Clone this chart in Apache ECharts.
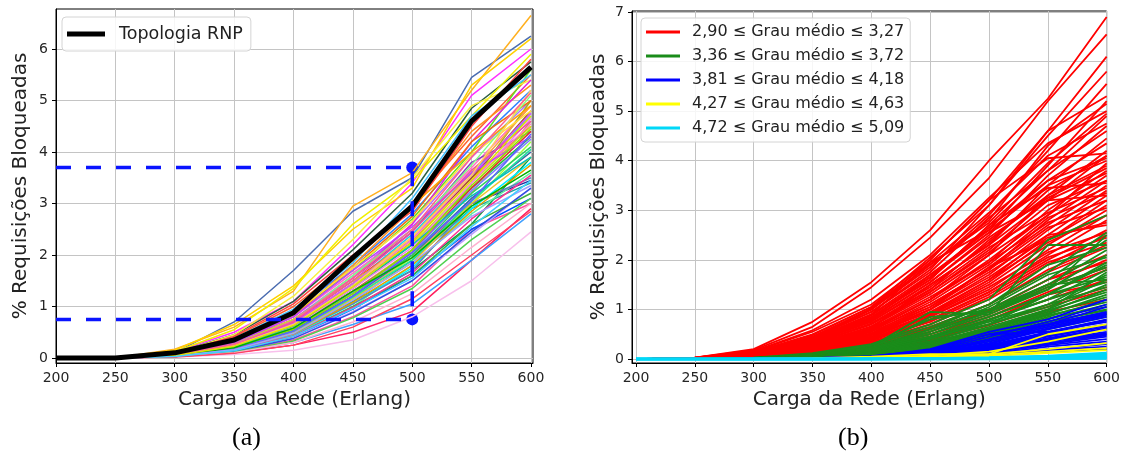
<!DOCTYPE html>
<html>
<head>
<meta charset="utf-8">
<script src="https://cdn.jsdelivr.net/npm/echarts@6/dist/echarts.min.js"></script>
<style>
  html, body { margin: 0; padding: 0; background: #fff; }
  #chart { width: 1123px; height: 457px; }
</style>
</head>
<body>
<div id="chart"></div>
<script>
// eixo x comum (carga em Erlang)
const cargas = [200, 250, 300, 350, 400, 450, 500, 550, 600]
const ticksX = [200, 250, 300, 350, 400, 450, 500, 550, 600]
const ticksYa = [0, 1, 2, 3, 4, 5, 6]
const ticksYb = [0, 1, 2, 3, 4, 5, 6, 7]

// (a) topologia RNP e topologias geradas
const topologiaRNP = [0, 0, 0.1, 0.35, 0.88, 1.95, 2.95, 4.6, 5.65]
const guiaCarga = 500
const guiaAlto = 3.7
const guiaBaixo = 0.75

const coresA = [
  '#4a6cb0', '#ffb020', '#ff30ff', '#ffd000', '#2e6040', '#f0f000', '#ff6030', '#3080ff', '#60e020',
  '#b070ff', '#ff70c0', '#20d0e0', '#ff2020', '#20c040', '#d0a060', '#2030a0', '#20a0a0', '#ff50a0',
  '#f8c0ec', '#ff2060', '#40a0ff', '#f8f040', '#ff9020', '#8040c0', '#00a050', '#a0b020', '#ff8080',
  '#0050ff', '#60f0a0', '#e020e0', '#a06030', '#c0a0ff', '#a0ff40', '#00f0ff', '#ffa040', '#e03030',
  '#d0e020', '#40b040', '#6080c0', '#f080f0', '#3070b0', '#f07010', '#30d060', '#f0c030', '#d050ff',
  '#ff4040', '#40c0ff', '#ffe040', '#80ff80', '#ff80c0', '#8080ff', '#20e0a0', '#e0a000', '#ff3090',
  '#3050e0', '#50d050', '#ffb0d0', '#ff4060', '#c040ff', '#ffa000', '#00c0c0', '#90e000', '#f050a0',
  '#ffd060', '#6060ff', '#00b000', '#ff6090', '#a0a0ff', '#e0e000', '#40d0ff'
]
const linhasA = [
  [0, 0, 0.1, 0.7, 1.7, 2.85, 3.5, 5.45, 6.25],
  [0, 0, 0.17, 0.6, 1.3, 2.95, 3.6, 5.2, 6.65],
  [0, 0, 0.12, 0.5, 1.1, 2.2, 3.4, 5.1, 6.0],
  [0, 0, 0.15, 0.65, 1.4, 2.5, 3.3, 5.3, 6.2],
  [0, 0, 0.1, 0.45, 1.1, 2.1, 3.2, 4.85, 5.75],
  [0, 0, 0.12, 0.55, 1.35, 2.6, 3.45, 4.7, 5.9],
  [0, 0, 0.1, 0.4, 1.0, 1.9, 3.0, 4.3, 5.5],
  [0, 0, 0.08, 0.35, 0.9, 1.8, 2.8, 4.1, 5.2],
  [0, 0, 0.07, 0.3, 0.85, 1.7, 2.7, 4.0, 5.6],
  [0, 0, 0.06, 0.28, 0.75, 1.6, 2.6, 3.9, 5.0],
  [0, 0, 0.07, 0.3, 0.8, 1.65, 2.5, 3.7, 4.9],
  [0, 0, 0.05, 0.22, 0.65, 1.45, 2.4, 3.6, 4.7],
  [0, 0, 0.06, 0.25, 0.7, 1.5, 2.3, 3.5, 4.5],
  [0, 0, 0.05, 0.2, 0.6, 1.35, 2.2, 3.3, 4.3],
  [0, 0, 0.05, 0.2, 0.55, 1.3, 2.1, 3.2, 4.6],
  [0, 0, 0.05, 0.18, 0.5, 1.2, 2.0, 3.0, 3.45],
  [0, 0, 0.04, 0.15, 0.45, 1.1, 1.9, 2.9, 3.4],
  [0, 0, 0.03, 0.12, 0.35, 0.8, 1.4, 2.5, 3.0],
  [0, 0, 0.02, 0.07, 0.15, 0.35, 0.8, 1.5, 2.45],
  [0, 0, 0.03, 0.1, 0.25, 0.5, 0.9, 1.9, 2.9],
  [0, 0, 0.03, 0.1, 0.3, 0.65, 1.05, 1.9, 2.8],
  [0, 0, 0.08, 0.45, 1.2, 2.3, 3.5, 4.9, 5.4],
  [0, 0, 0.06, 0.3, 0.8, 1.8, 2.9, 4.4, 5.3],
  [0, 0, 0.05, 0.25, 0.7, 1.55, 2.45, 3.8, 4.4],
  [0, 0, 0.04, 0.18, 0.5, 1.1, 1.7, 2.6, 3.9],
  [0, 0, 0.05, 0.2, 0.55, 1.25, 2.1, 3.4, 5.0],
  [0, 0, 0.04, 0.2, 0.55, 1.2, 1.95, 3.1, 4.0],
  [0, 0, 0.03, 0.12, 0.4, 0.95, 1.6, 2.5, 3.1],
  [0, 0, 0.04, 0.15, 0.45, 1.0, 1.8, 2.8, 3.6],
  [0, 0, 0.06, 0.3, 0.75, 1.55, 2.6, 4.2, 5.4],
  [0, 0, 0.05, 0.22, 0.6, 1.4, 2.25, 3.5, 4.8],
  [0, 0, 0.03, 0.13, 0.4, 0.9, 1.5, 2.4, 3.3],
  [0, 0, 0.04, 0.17, 0.5, 1.15, 1.95, 3.0, 4.2],
  [0, 0, 0.04, 0.15, 0.45, 1.05, 1.75, 2.9, 3.8],
  [0, 0, 0.05, 0.25, 0.65, 1.45, 2.35, 3.6, 4.9],
  [0, 0, 0.05, 0.2, 0.6, 1.3, 2.05, 3.3, 4.4],
  [0, 0, 0.06, 0.28, 0.75, 1.5, 2.2, 3.4, 4.5],
  [0, 0, 0.03, 0.14, 0.42, 1.0, 1.6, 2.6, 3.2],
  [0, 0, 0.04, 0.16, 0.48, 1.05, 1.7, 3.0, 3.5],
  [0, 0, 0.05, 0.2, 0.6, 1.35, 2.15, 3.4, 4.65],
  [0, 0, 0.04, 0.2, 0.55, 1.2, 2.0, 3.1, 4.0],
  [0, 0, 0.07, 0.32, 0.85, 1.75, 2.75, 4.2, 5.0],
  [0, 0, 0.05, 0.22, 0.58, 1.25, 2.0, 3.2, 4.1],
  [0, 0, 0.04, 0.18, 0.5, 1.15, 1.85, 3.0, 3.9],
  [0, 0, 0.06, 0.25, 0.68, 1.45, 2.3, 3.55, 4.75],
  [0, 0, 0.09, 0.42, 1.05, 2.0, 2.85, 4.5, 5.8],
  [0, 0, 0.08, 0.38, 0.95, 1.85, 3.1, 4.7, 5.5],
  [0, 0, 0.07, 0.33, 0.85, 1.75, 2.65, 3.95, 4.8],
  [0, 0, 0.06, 0.27, 0.72, 1.6, 2.5, 3.75, 5.1],
  [0, 0, 0.05, 0.24, 0.62, 1.4, 2.3, 3.45, 4.55],
  [0, 0, 0.05, 0.21, 0.57, 1.28, 2.05, 3.25, 4.25],
  [0, 0, 0.04, 0.19, 0.52, 1.18, 1.9, 3.05, 4.05],
  [0, 0, 0.04, 0.17, 0.47, 1.08, 1.8, 2.85, 3.75],
  [0, 0, 0.03, 0.15, 0.43, 0.98, 1.65, 2.7, 3.55],
  [0, 0, 0.03, 0.13, 0.38, 0.88, 1.5, 2.45, 3.3],
  [0, 0, 0.03, 0.11, 0.33, 0.78, 1.35, 2.3, 3.1],
  [0, 0, 0.03, 0.1, 0.3, 0.7, 1.25, 2.15, 3.0],
  [0, 0, 0.02, 0.09, 0.25, 0.6, 1.15, 2.0, 2.85],
  [0, 0, 0.06, 0.3, 0.8, 1.7, 2.55, 3.6, 4.3],
  [0, 0, 0.07, 0.35, 0.9, 1.9, 2.95, 4.0, 4.9],
  [0, 0, 0.05, 0.22, 0.62, 1.4, 2.2, 3.15, 3.9],
  [0, 0, 0.04, 0.2, 0.56, 1.25, 2.1, 3.35, 4.45],
  [0, 0, 0.06, 0.27, 0.7, 1.5, 2.45, 3.65, 4.6],
  [0, 0, 0.05, 0.24, 0.65, 1.4, 2.35, 3.55, 5.2],
  [0, 0, 0.04, 0.18, 0.52, 1.2, 2.05, 3.05, 4.35],
  [0, 0, 0.05, 0.2, 0.58, 1.3, 1.95, 2.95, 3.65],
  [0, 0, 0.06, 0.26, 0.72, 1.55, 2.5, 3.9, 5.15],
  [0, 0, 0.04, 0.16, 0.48, 1.12, 1.85, 2.75, 3.35],
  [0, 0, 0.05, 0.23, 0.63, 1.38, 2.25, 3.45, 4.7],
  [0, 0, 0.03, 0.14, 0.42, 0.96, 1.55, 2.55, 3.45]
]

// (b) faixas de grau medio
const faixas = [
  '2,90 ≤ Grau médio ≤ 3,27',
  '3,36 ≤ Grau médio ≤ 3,72',
  '3,81 ≤ Grau médio ≤ 4,18',
  '4,27 ≤ Grau médio ≤ 4,63',
  '4,72 ≤ Grau médio ≤ 5,09'
]
const coresB = ['#ff0000', '#1a8c1a', '#0000ff', '#ffff00', '#00d8f8']

const linhasVermelho = [
  [0, 0.03, 0.2, 0.75, 1.55, 2.6, 4.0, 5.25, 6.9],
  [0, 0.03, 0.18, 0.65, 1.45, 2.45, 3.65, 5.2, 6.55],
  [0, 0.03, 0.15, 0.55, 1.1, 2.0, 3.2, 4.6, 6.1],
  [0, 0.03, 0.14, 0.5, 1.05, 2.05, 3.1, 4.5, 5.8],
  [0, 0.02, 0.12, 0.45, 1.0, 1.85, 2.9, 4.2, 5.55],
  [0, 0.02, 0.13, 0.42, 0.95, 1.8, 3.1, 4.6, 5.3],
  [0, 0.02, 0.12, 0.4, 0.9, 1.7, 2.6, 3.9, 5.2],
  [0, 0.02, 0.11, 0.38, 0.85, 1.6, 2.7, 3.8, 4.9],
  [0, 0.02, 0.1, 0.35, 0.8, 1.55, 2.5, 3.7, 4.7],
  [0, 0.02, 0.1, 0.33, 0.75, 1.5, 2.3, 3.5, 4.45],
  [0, 0.02, 0.09, 0.3, 0.72, 1.4, 2.4, 3.3, 4.2],
  [0, 0.02, 0.09, 0.3, 0.7, 1.35, 2.2, 3.2, 4.1],
  [0, 0.02, 0.08, 0.28, 0.65, 1.3, 2.1, 3.3, 3.9],
  [0, 0.02, 0.08, 0.27, 0.62, 1.25, 1.95, 3.0, 3.8],
  [0, 0.02, 0.08, 0.25, 0.6, 1.2, 2.0, 2.9, 3.7],
  [0, 0.02, 0.07, 0.25, 0.58, 1.1, 1.8, 2.8, 3.6],
  [0, 0.02, 0.07, 0.22, 0.55, 1.05, 1.85, 2.7, 3.5],
  [0, 0.01, 0.07, 0.22, 0.52, 1.0, 1.7, 2.6, 3.4],
  [0, 0.01, 0.06, 0.2, 0.5, 0.95, 1.6, 2.5, 3.3],
  [0, 0.01, 0.06, 0.2, 0.48, 0.9, 1.55, 2.4, 3.2],
  [0, 0.01, 0.06, 0.18, 0.45, 0.88, 1.5, 2.3, 3.0],
  [0, 0.01, 0.05, 0.18, 0.42, 0.85, 1.4, 2.2, 2.9],
  [0, 0.01, 0.05, 0.16, 0.4, 0.8, 1.35, 2.1, 2.8],
  [0, 0.01, 0.05, 0.15, 0.38, 0.75, 1.3, 2.0, 2.6],
  [0, 0.01, 0.05, 0.15, 0.35, 0.7, 1.2, 1.9, 2.5],
  [0, 0.01, 0.04, 0.14, 0.33, 0.65, 1.1, 1.8, 2.3],
  [0, 0.01, 0.04, 0.12, 0.3, 0.6, 1.0, 1.6, 2.1],
  [0, 0.01, 0.04, 0.12, 0.28, 0.55, 0.95, 1.5, 2.0],
  [0, 0.01, 0.04, 0.1, 0.25, 0.5, 0.85, 1.35, 1.8],
  [0, 0.01, 0.03, 0.1, 0.22, 0.45, 0.8, 1.2, 1.6],
  [0, 0.01, 0.03, 0.08, 0.2, 0.4, 0.7, 1.05, 1.4],
  [0, 0.01, 0.03, 0.08, 0.18, 0.35, 0.6, 0.95, 1.2],
  [0, 0.02, 0.1, 0.38, 0.9, 1.95, 2.6, 3.5, 4.0],
  [0, 0.02, 0.09, 0.33, 0.8, 1.7, 2.55, 3.2, 3.3],
  [0, 0.02, 0.11, 0.4, 1.0, 1.9, 2.8, 4.3, 5.15],
  [0, 0.02, 0.1, 0.35, 0.82, 1.65, 2.65, 3.6, 4.05],
  [0, 0.01, 0.07, 0.25, 0.62, 1.5, 2.3, 3.2, 3.75],
  [0, 0.01, 0.06, 0.22, 0.58, 1.2, 2.1, 2.9, 3.95],
  [0, 0.01, 0.05, 0.2, 0.5, 1.05, 1.75, 2.5, 2.7],
  [0, 0.01, 0.05, 0.18, 0.45, 1.0, 1.85, 2.4, 3.1],
  [0, 0.02, 0.12, 0.45, 1.0, 2.0, 3.2, 4.05, 4.15],
  [0, 0.02, 0.11, 0.42, 0.95, 1.75, 2.85, 3.8, 4.6],
  [0, 0.02, 0.1, 0.38, 0.88, 1.65, 2.55, 3.6, 4.35],
  [0, 0.02, 0.09, 0.34, 0.78, 1.55, 2.45, 3.25, 3.85],
  [0, 0.02, 0.09, 0.32, 0.76, 1.45, 2.35, 3.4, 4.1],
  [0, 0.02, 0.08, 0.3, 0.7, 1.4, 2.25, 2.95, 3.45],
  [0, 0.02, 0.08, 0.28, 0.66, 1.35, 2.15, 3.1, 3.6],
  [0, 0.02, 0.07, 0.26, 0.6, 1.2, 1.95, 2.75, 3.2],
  [0, 0.01, 0.07, 0.24, 0.56, 1.15, 1.9, 2.85, 3.35],
  [0, 0.01, 0.06, 0.22, 0.52, 1.1, 1.8, 2.65, 3.05],
  [0, 0.01, 0.06, 0.2, 0.48, 1.0, 1.65, 2.45, 2.75],
  [0, 0.01, 0.05, 0.18, 0.44, 0.92, 1.6, 2.35, 2.9],
  [0, 0.01, 0.05, 0.17, 0.4, 0.85, 1.45, 2.15, 2.55],
  [0, 0.01, 0.05, 0.15, 0.37, 0.78, 1.35, 2.05, 2.45],
  [0, 0.01, 0.04, 0.13, 0.33, 0.7, 1.25, 1.95, 2.35],
  [0, 0.01, 0.04, 0.12, 0.3, 0.62, 1.1, 1.75, 2.25],
  [0, 0.01, 0.04, 0.11, 0.27, 0.55, 0.98, 1.6, 1.95],
  [0, 0.01, 0.03, 0.1, 0.24, 0.5, 0.9, 1.45, 1.85],
  [0, 0.01, 0.03, 0.09, 0.21, 0.45, 0.78, 1.3, 1.55],
  [0, 0.01, 0.03, 0.08, 0.19, 0.38, 0.68, 1.1, 1.45],
  [0, 0.03, 0.16, 0.58, 1.2, 2.1, 3.25, 4.35, 5.0],
  [0, 0.02, 0.13, 0.48, 1.05, 1.95, 2.95, 4.1, 4.75],
  [0, 0.02, 0.12, 0.44, 1.02, 1.9, 2.75, 3.95, 4.95],
  [0, 0.02, 0.1, 0.36, 0.84, 1.6, 2.7, 3.45, 3.55]
]
const linhasVerde = [
  [0, 0, 0.03, 0.1, 0.25, 0.95, 0.9, 2.3, 2.3],
  [0, 0, 0.03, 0.12, 0.3, 0.7, 1.2, 2.4, 2.9],
  [0, 0, 0.02, 0.1, 0.28, 0.65, 1.1, 1.75, 2.55],
  [0, 0, 0.02, 0.09, 0.25, 0.6, 1.0, 1.6, 2.4],
  [0, 0, 0.02, 0.08, 0.22, 0.55, 0.95, 1.5, 2.2],
  [0, 0, 0.02, 0.08, 0.2, 0.5, 0.9, 1.4, 2.1],
  [0, 0, 0.02, 0.07, 0.18, 0.45, 0.85, 1.3, 1.95],
  [0, 0, 0.02, 0.07, 0.17, 0.42, 0.8, 1.2, 1.8],
  [0, 0, 0.01, 0.06, 0.15, 0.4, 0.75, 1.1, 1.7],
  [0, 0, 0.01, 0.06, 0.14, 0.35, 0.7, 1.05, 1.6],
  [0, 0, 0.01, 0.05, 0.13, 0.32, 0.65, 1.0, 1.5],
  [0, 0, 0.01, 0.05, 0.12, 0.3, 0.6, 0.95, 1.4],
  [0, 0, 0.01, 0.05, 0.11, 0.28, 0.55, 0.9, 1.3],
  [0, 0, 0.01, 0.04, 0.1, 0.25, 0.5, 0.85, 1.2],
  [0, 0, 0.01, 0.04, 0.09, 0.22, 0.45, 0.8, 1.1],
  [0, 0, 0.01, 0.04, 0.08, 0.2, 0.42, 0.75, 1.0],
  [0, 0, 0.01, 0.03, 0.08, 0.18, 0.4, 0.7, 0.95],
  [0, 0, 0.01, 0.03, 0.07, 0.16, 0.38, 0.65, 0.9],
  [0, 0, 0.01, 0.03, 0.07, 0.15, 0.35, 0.6, 0.85],
  [0, 0, 0.02, 0.09, 0.28, 0.8, 1.0, 1.5, 1.6],
  [0, 0, 0.02, 0.08, 0.2, 0.6, 1.1, 1.9, 2.25],
  [0, 0, 0.01, 0.06, 0.2, 0.45, 0.7, 1.3, 1.9],
  [0, 0, 0.01, 0.05, 0.15, 0.35, 0.55, 1.0, 1.75],
  [0, 0, 0.02, 0.09, 0.22, 0.85, 0.95, 1.4, 2.5],
  [0, 0, 0.02, 0.08, 0.22, 0.55, 1.05, 1.7, 2.05],
  [0, 0, 0.02, 0.07, 0.2, 0.5, 0.95, 1.45, 1.85],
  [0, 0, 0.01, 0.06, 0.18, 0.45, 0.85, 1.3, 1.65],
  [0, 0, 0.01, 0.06, 0.16, 0.4, 0.78, 1.2, 1.55],
  [0, 0, 0.01, 0.05, 0.14, 0.36, 0.7, 1.1, 1.45],
  [0, 0, 0.01, 0.05, 0.13, 0.33, 0.62, 0.98, 1.35],
  [0, 0, 0.01, 0.04, 0.12, 0.3, 0.58, 0.92, 1.25],
  [0, 0, 0.01, 0.04, 0.11, 0.27, 0.52, 0.88, 1.15],
  [0, 0, 0.01, 0.04, 0.1, 0.24, 0.48, 0.82, 1.05],
  [0, 0, 0.01, 0.03, 0.09, 0.2, 0.44, 0.76, 0.98],
  [0, 0, 0.01, 0.03, 0.08, 0.19, 0.4, 0.72, 0.92]
]
const linhasAzul = [
  [0, 0, 0.01, 0.02, 0.05, 0.2, 0.55, 0.8, 1.2],
  [0, 0, 0.01, 0.02, 0.05, 0.15, 0.45, 0.75, 1.1],
  [0, 0, 0.01, 0.02, 0.04, 0.14, 0.4, 0.7, 0.95],
  [0, 0, 0.01, 0.02, 0.04, 0.12, 0.35, 0.65, 0.9],
  [0, 0, 0.005, 0.015, 0.04, 0.11, 0.3, 0.6, 0.85],
  [0, 0, 0.005, 0.015, 0.035, 0.1, 0.28, 0.55, 0.8],
  [0, 0, 0.005, 0.01, 0.03, 0.09, 0.25, 0.5, 0.7],
  [0, 0, 0.005, 0.01, 0.03, 0.08, 0.22, 0.45, 0.65],
  [0, 0, 0.005, 0.01, 0.03, 0.08, 0.2, 0.4, 0.6],
  [0, 0, 0.005, 0.01, 0.025, 0.07, 0.18, 0.38, 0.55],
  [0, 0, 0, 0.01, 0.02, 0.06, 0.16, 0.35, 0.5],
  [0, 0, 0, 0.01, 0.02, 0.05, 0.14, 0.3, 0.45],
  [0, 0, 0, 0.01, 0.02, 0.05, 0.12, 0.28, 0.4],
  [0, 0, 0, 0.01, 0.02, 0.04, 0.1, 0.25, 0.35],
  [0, 0, 0, 0.01, 0.015, 0.04, 0.09, 0.2, 0.3],
  [0, 0, 0, 0.005, 0.01, 0.03, 0.08, 0.18, 0.25],
  [0, 0, 0, 0.005, 0.01, 0.03, 0.07, 0.15, 0.2],
  [0, 0, 0.01, 0.02, 0.06, 0.18, 0.5, 0.55, 0.75],
  [0, 0, 0.01, 0.02, 0.05, 0.17, 0.5, 0.7, 1.05],
  [0, 0, 0.01, 0.02, 0.045, 0.13, 0.38, 0.68, 0.92],
  [0, 0, 0.005, 0.015, 0.04, 0.11, 0.32, 0.62, 0.88],
  [0, 0, 0.005, 0.015, 0.035, 0.1, 0.27, 0.52, 0.78],
  [0, 0, 0.005, 0.01, 0.03, 0.085, 0.23, 0.47, 0.68],
  [0, 0, 0.005, 0.01, 0.025, 0.075, 0.2, 0.42, 0.62],
  [0, 0, 0, 0.01, 0.02, 0.065, 0.17, 0.36, 0.52],
  [0, 0, 0, 0.01, 0.02, 0.055, 0.15, 0.32, 0.48]
]
const linhasAmarelo = [
  [0, 0, 0.01, 0.02, 0.05, 0.1, 0.1, 0.5, 0.7],
  [0, 0, 0, 0.01, 0.02, 0.05, 0.1, 0.2, 0.32],
  [0, 0, 0, 0.01, 0.02, 0.04, 0.08, 0.15, 0.22],
  [0, 0, 0, 0.01, 0.03, 0.07, 0.15, 0.35, 0.6],
  [0, 0, 0, 0, 0.01, 0.03, 0.06, 0.12, 0.18]
]
const linhasCiano = [
  [0, 0, 0, 0, 0.005, 0.01, 0.03, 0.06, 0.12],
  [0, 0, 0, 0, 0.005, 0.01, 0.02, 0.05, 0.1],
  [0, 0, 0, 0, 0, 0.01, 0.02, 0.04, 0.08],
  [0, 0, 0, 0, 0, 0.005, 0.015, 0.03, 0.06],
  [0, 0, 0, 0, 0, 0.005, 0.01, 0.02, 0.04],
  [0, 0, 0, 0, 0, 0, 0.005, 0.01, 0.02],
  [0, 0, 0, 0, 0, 0, 0, 0.005, 0.01]
]

const toPairs = (vals) => vals.map((v, i) => [cargas[i], v])
const fonte = 'DejaVu Sans'

const makeXAxis = (gridIndex, min, max) => ({
  type: 'value',
  gridIndex,
  min,
  max,
  name: 'Carga da Rede (Erlang)',
  nameLocation: 'middle',
  nameGap: 26,
  nameTextStyle: { fontFamily: fonte, fontSize: 20, color: '#222' },
  axisLine: { show: true, onZero: false, lineStyle: { color: '#000', width: 1 } },
  axisTick: { show: true, length: 4, customValues: ticksX, lineStyle: { color: '#000' } },
  axisLabel: { customValues: ticksX, margin: 8, fontFamily: fonte, fontSize: 14, color: '#262626' },
  splitLine: { show: true, lineStyle: { color: '#c4c4c4', width: 1 } }
})

const makeYAxis = (gridIndex, min, max, ticks, gap) => ({
  type: 'value',
  gridIndex,
  min,
  max,
  name: '% Requisições Bloqueadas',
  nameLocation: 'middle',
  nameGap: gap,
  nameTextStyle: { fontFamily: fonte, fontSize: 20, color: '#222' },
  axisLine: { show: true, onZero: false, lineStyle: { color: '#000', width: 1 } },
  axisTick: { show: true, length: 4, customValues: ticks, lineStyle: { color: '#000' } },
  axisLabel: { customValues: ticks, margin: 8, fontFamily: fonte, fontSize: 14, color: '#262626' },
  splitLine: { show: true, lineStyle: { color: '#c4c4c4', width: 1 } }
})

const series = []

// (a) linhas coloridas
linhasA.forEach((vals, i) => {
  series.push({
    type: 'line',
    name: 'topo' + i,
    xAxisIndex: 0,
    yAxisIndex: 0,
    data: toPairs(vals),
    symbol: 'none',
    color: coresA[i % coresA.length],
    lineStyle: { width: 1.5 }
  })
})

series.push({
  type: 'line',
  name: 'Topologia RNP',
  xAxisIndex: 0,
  yAxisIndex: 0,
  data: toPairs(topologiaRNP),
  symbol: 'none',
  color: '#000',
  lineStyle: { width: 5, join: 'round' }
})

// linhas guia tracejadas
series.push({
  type: 'line',
  name: 'guiaAlto',
  xAxisIndex: 0,
  yAxisIndex: 0,
  data: [[cargas[0], guiaAlto], [guiaCarga, guiaAlto], [guiaCarga, guiaBaixo]],
  symbol: 'none',
  color: '#0a14ff',
  lineStyle: { width: 3.5, type: [15, 15] }
})
series.push({
  type: 'line',
  name: 'guiaBaixo',
  xAxisIndex: 0,
  yAxisIndex: 0,
  data: [[cargas[0], guiaBaixo], [guiaCarga, guiaBaixo]],
  symbol: 'none',
  color: '#0a14ff',
  lineStyle: { width: 3.5, type: [15, 15] }
})
series.push({
  type: 'scatter',
  name: 'guiaPontos',
  xAxisIndex: 0,
  yAxisIndex: 0,
  data: [[guiaCarga, guiaAlto], [guiaCarga, guiaBaixo]],
  symbolSize: 12,
  color: '#0a14ff',
  itemStyle: { opacity: 1 }
})

// (b) grupos por grau medio
const gruposB = [linhasVermelho, linhasVerde, linhasAzul, linhasAmarelo, linhasCiano]
gruposB.forEach((grupo, g) => {
  grupo.forEach((vals) => {
    series.push({
      type: 'line',
      name: faixas[g],
      xAxisIndex: 1,
      yAxisIndex: 1,
      data: toPairs(vals),
      symbol: 'none',
      color: coresB[g],
      lineStyle: { width: g === 4 ? 2.6 : 1.8 }
    })
  })
})

const legendaBase = {
  backgroundColor: 'rgba(255,255,255,0.85)',
  borderColor: '#d4d4d4',
  borderWidth: 1,
  borderRadius: 4,
  icon: 'rect',
  selectedMode: false
}

const option = {
  animation: false,
  backgroundColor: '#fff',
  grid: [
    { left: 56, top: 9, width: 477, height: 354, show: true, borderColor: '#000', borderWidth: 1, backgroundColor: 'transparent' },
    { left: 632, top: 11, width: 477, height: 352, show: true, borderColor: '#000', borderWidth: 1, backgroundColor: 'transparent' }
  ],
  xAxis: [makeXAxis(0, 200, 601.7), makeXAxis(1, 196.6, 600)],
  yAxis: [makeYAxis(0, -0.097, 6.777, ticksYa, 25), makeYAxis(1, -0.08, 7.02, ticksYb, 23)],
  legend: [
    {
      ...legendaBase,
      data: ['Topologia RNP'],
      left: 62,
      top: 17,
      padding: [8, 8, 8, 5],
      itemWidth: 38,
      itemHeight: 5,
      textStyle: { fontFamily: fonte, fontSize: 17.5, color: '#222', padding: [0, 0, 0, 9] }
    },
    {
      ...legendaBase,
      data: faixas,
      orient: 'vertical',
      left: 641,
      top: 18,
      padding: [5, 6, 5, 5],
      itemGap: 6,
      itemWidth: 34,
      itemHeight: 3,
      textStyle: { fontFamily: fonte, fontSize: 16, color: '#222', lineHeight: 18, padding: [0, 0, 0, 7] }
    }
  ],
  graphic: [
    { type: 'text', left: 232, top: 425, style: { text: '(a)', font: '26px "Liberation Serif"', fill: '#000' } },
    { type: 'text', left: 838, top: 425, style: { text: '(b)', font: '26px "Liberation Serif"', fill: '#000' } }
  ],
  series
}

const myChart = echarts.init(document.getElementById('chart'))
myChart.setOption(option)
</script>
</body>
</html>
